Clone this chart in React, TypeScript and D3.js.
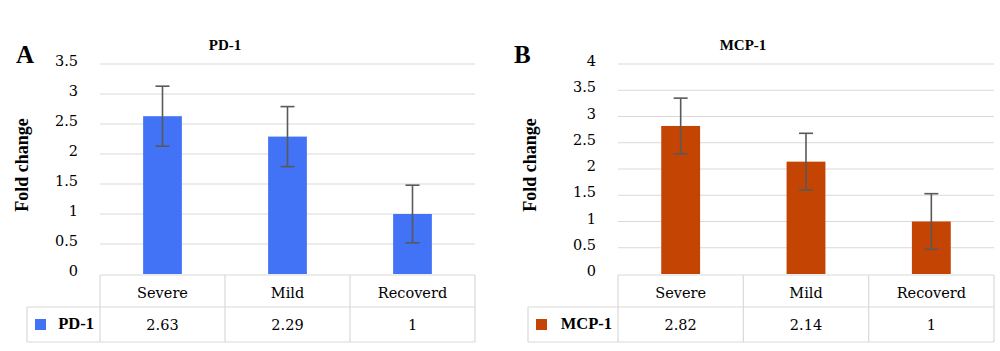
import React from "react";
import * as d3 from "d3";

const categories = ["Severe", "Mild", "Recoverd"];
const pd1Values = [2.63, 2.29, 1];
const pd1Errors = [0.5, 0.5, 0.48];
const pd1Ticks = [0, 0.5, 1, 1.5, 2, 2.5, 3, 3.5];
const mcp1Values = [2.82, 2.14, 1];
const mcp1Errors = [0.53, 0.54, 0.53];
const mcp1Ticks = [0, 0.5, 1, 1.5, 2, 2.5, 3, 3.5, 4];

const FONT = "Liberation Serif, serif";
const RFONT = "DejaVu Serif, serif";
const GRID = "#d9d9d9";

type PanelProps = {
  letter: string;
  title: string;
  values: number[];
  errors: number[];
  ticks: number[];
  yMax: number;
  color: string;
  plotLeft: number;
  plotRight: number;
  legendLeft: number;
  letterX: number;
  ylabelX: number;
  titleX: number;
};

function Panel(p: PanelProps) {
  const top = 64;
  const bottom = 274;
  const y = d3.scaleLinear().domain([0, p.yMax]).range([bottom, top]);
  const x = d3.scaleBand().domain(categories).range([p.plotLeft, p.plotRight]).paddingInner(0).paddingOuter(0);
  const barW = x.bandwidth() * 0.31;
  const row1Top = 275;
  const row1Bot = 307;
  const row2Bot = 342;
  return (
    <g>
      <text x={p.letterX} y={63} fontFamily={FONT} fontWeight="bold" fontSize={25}>{p.letter}</text>
      <text x={p.titleX} y={50} fontFamily={FONT} fontWeight="bold" fontSize={15} textAnchor="middle">{p.title}</text>
      <text transform={`translate(${p.ylabelX},${165}) rotate(-90)`} fontFamily={FONT} fontWeight="bold" fontSize={18} textAnchor="middle" dominantBaseline="central">Fold change</text>
      {p.ticks.map((t) => (
        <g key={t}>
          {t > 0 && <line x1={p.plotLeft} x2={p.plotRight} y1={y(t)} y2={y(t)} stroke={GRID} strokeWidth={1.2} />}
          <text x={p.plotLeft - 22} y={y(t) - 3} fontFamily={RFONT} fontSize={14.5} textAnchor="end" dominantBaseline="central">{String(t)}</text>
        </g>
      ))}
      {categories.map((c, i) => {
        const cx = (x(c) as number) + x.bandwidth() / 2;
        const v = p.values[i];
        const e = p.errors[i];
        return (
          <g key={c}>
            <rect x={cx - barW / 2} y={y(v)} width={barW} height={y(0) - y(v)} fill={p.color} />
            <line x1={cx} x2={cx} y1={y(v + e)} y2={y(v - e)} stroke="#595959" strokeWidth={1.6} />
            <line x1={cx - 7} x2={cx + 7} y1={y(v + e)} y2={y(v + e)} stroke="#595959" strokeWidth={1.6} />
            <line x1={cx - 7} x2={cx + 7} y1={y(v - e)} y2={y(v - e)} stroke="#595959" strokeWidth={1.6} />
            <text x={cx} y={298} fontFamily={RFONT} fontSize={14.5} textAnchor="middle">{c}</text>
            <text x={cx} y={330} fontFamily={RFONT} fontSize={14.5} textAnchor="middle">{String(v)}</text>
          </g>
        );
      })}
      <g stroke={GRID} strokeWidth={1.2} fill="none">
        <line x1={p.plotLeft} x2={p.plotRight} y1={row1Top} y2={row1Top} />
        <line x1={p.legendLeft} x2={p.plotRight} y1={row1Bot} y2={row1Bot} />
        <line x1={p.legendLeft} x2={p.plotRight} y1={row2Bot} y2={row2Bot} />
        <line x1={p.legendLeft} x2={p.legendLeft} y1={row1Bot} y2={row2Bot} />
        {categories.map((c) => (
          <line key={c} x1={x(c) as number} x2={x(c) as number} y1={row1Top} y2={row2Bot} />
        ))}
        <line x1={p.plotRight} x2={p.plotRight} y1={row1Top} y2={row2Bot} />
      </g>
      <rect x={p.legendLeft + 8} y={319} width={11} height={11} fill={p.color} />
      <text x={p.plotLeft - 6} y={329} fontFamily={FONT} fontWeight="bold" fontSize={16.5} textAnchor="end">{p.title}</text>
    </g>
  );
}

export default function App() {
  return (
    <svg width={1000} height={351} style={{ position: "absolute", left: 0, top: 0, background: "#fff" }}>
      <rect width={1000} height={351} fill="#fff" />
      <Panel
        letter="A"
        title="PD-1"
        values={pd1Values}
        errors={pd1Errors}
        ticks={pd1Ticks}
        yMax={3.5}
        color="#4272f5"
        plotLeft={100}
        plotRight={475}
        legendLeft={27}
        letterX={16}
        ylabelX={22}
        titleX={225}
      />
      <Panel
        letter="B"
        title="MCP-1"
        values={mcp1Values}
        errors={mcp1Errors}
        ticks={mcp1Ticks}
        yMax={4}
        color="#c44404"
        plotLeft={618}
        plotRight={994}
        legendLeft={528}
        letterX={514}
        ylabelX={530}
        titleX={743}
      />
    </svg>
  );
}
